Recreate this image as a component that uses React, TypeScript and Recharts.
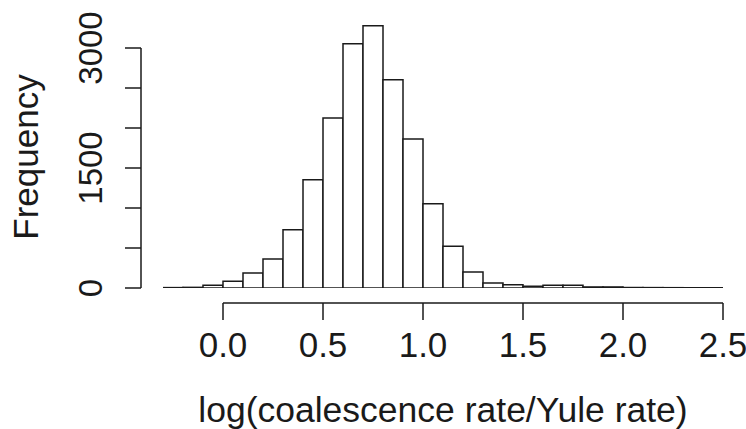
import React from 'react';
import { BarChart, Bar, XAxis, YAxis } from 'recharts';

// histogram bins (left edges) and counts
const binStarts: number[] = [
  -0.3, -0.2, -0.1, 0.0, 0.1, 0.2, 0.3, 0.4, 0.5, 0.6, 0.7, 0.8, 0.9, 1.0,
  1.1, 1.2, 1.3, 1.4, 1.5, 1.6, 1.7, 1.8, 1.9, 2.0, 2.1, 2.2, 2.3, 2.4,
];
const counts: number[] = [
  5, 8, 33, 85, 188, 363, 729, 1354, 2125, 3054, 3279, 2604, 1863, 1054,
  521, 200, 63, 42, 21, 33, 33, 13, 13, 6, 5, 4, 3, 3,
];
const BIN_W = 0.1;
const xTicks: number[] = [0, 0.5, 1.0, 1.5, 2.0, 2.5];
const yTicks: number[] = [0, 500, 1000, 1500, 2000, 2500, 3000];
const yLabelled: number[] = [0, 1500, 3000];

const X_MIN = -0.3;
const X_MAX = 2.5;
const Y_MAX = 3300;

const W = 746;
const H = 429;
const MARGIN = { top: 24, right: 23, bottom: 0, left: 103 };
const Y_AXIS_W = 60;
const X_AXIS_H = 141;
const plotW = W - MARGIN.left - MARGIN.right - Y_AXIS_W;
const plotH = H - MARGIN.top - MARGIN.bottom - X_AXIS_H;

const FONT = '"Liberation Sans", Arial, Helvetica, sans-serif';
const INK = '#1a1a1a';

const data = binStarts.map((b, i) => ({ mid: +(b + BIN_W / 2).toFixed(2), count: counts[i] }));

// R style detached axis: line from first to last tick, offset from the plot
const XTick = (props: any) => {
  const { x, y, payload } = props;
  const step = (0.5 * plotW) / (X_MAX - X_MIN);
  const axisY = y + 15;
  return (
    <g>
      {payload.value > 0 && (
        <line x1={x - step} x2={x} y1={axisY} y2={axisY} stroke={INK} strokeWidth={1.5} />
      )}
      <line x1={x} x2={x} y1={axisY} y2={axisY + 17} stroke={INK} strokeWidth={1.5} />
      <text x={x} y={y + 69} textAnchor="middle" fontFamily={FONT} fontSize={35} fill={INK}>
        {Number(payload.value).toFixed(1)}
      </text>
    </g>
  );
};

const YTick = (props: any) => {
  const { x, y, payload } = props;
  const step = (500 * plotH) / Y_MAX;
  const axisX = x - 22;
  const lx = axisX - 39;
  return (
    <g>
      {payload.value > 0 && (
        <line x1={axisX} x2={axisX} y1={y} y2={y + step} stroke={INK} strokeWidth={1.5} />
      )}
      <line x1={axisX - 16} x2={axisX} y1={y} y2={y} stroke={INK} strokeWidth={1.5} />
      {yLabelled.includes(payload.value) && (
        <text
          x={lx}
          y={y}
          transform={`rotate(-90 ${lx} ${y})`}
          textAnchor="middle"
          fontFamily={FONT}
          fontSize={33}
          fill={INK}
        >
          {payload.value}
        </text>
      )}
    </g>
  );
};

const XTitle = () => {
  const cx = MARGIN.left + Y_AXIS_W + plotW / 2;
  const cy = MARGIN.top + plotH + 134;
  return (
    <text x={cx} y={cy} textAnchor="middle" fontFamily={FONT} fontSize={35.5} fill={INK}>
      log(coalescence rate/Yule rate)
    </text>
  );
};

const YTitle = () => {
  const cx = 38;
  const cy = MARGIN.top + plotH / 2 + 1;
  return (
    <text x={cx} y={cy} transform={`rotate(-90 ${cx} ${cy})`} textAnchor="middle" fontFamily={FONT} fontSize={35} fill={INK}>
      Frequency
    </text>
  );
};

export default function App() {
  return (
    <div style={{ position: 'absolute', left: 0, top: 0, width: W, height: H, background: '#fff' }}>
      <BarChart width={W} height={H} data={data} margin={MARGIN} barCategoryGap={0} barGap={0}>
        <XAxis
          dataKey="mid"
          type="number"
          domain={[X_MIN, X_MAX]}
          allowDataOverflow
          ticks={xTicks}
          interval={0}
          height={X_AXIS_H}
          axisLine={false}
          tickLine={false}
          tickSize={0}
          tickMargin={0}
          tick={<XTick />}
          label={<XTitle />}
        />
        <YAxis
          domain={[0, Y_MAX]}
          allowDataOverflow
          ticks={yTicks}
          interval={0}
          width={Y_AXIS_W}
          axisLine={false}
          tickLine={false}
          tickSize={0}
          tickMargin={0}
          tick={<YTick />}
          label={<YTitle />}
        />
        <Bar dataKey="count" fill="#fff" stroke={INK} strokeWidth={1.5} isAnimationActive={false} />
      </BarChart>
    </div>
  );
}
